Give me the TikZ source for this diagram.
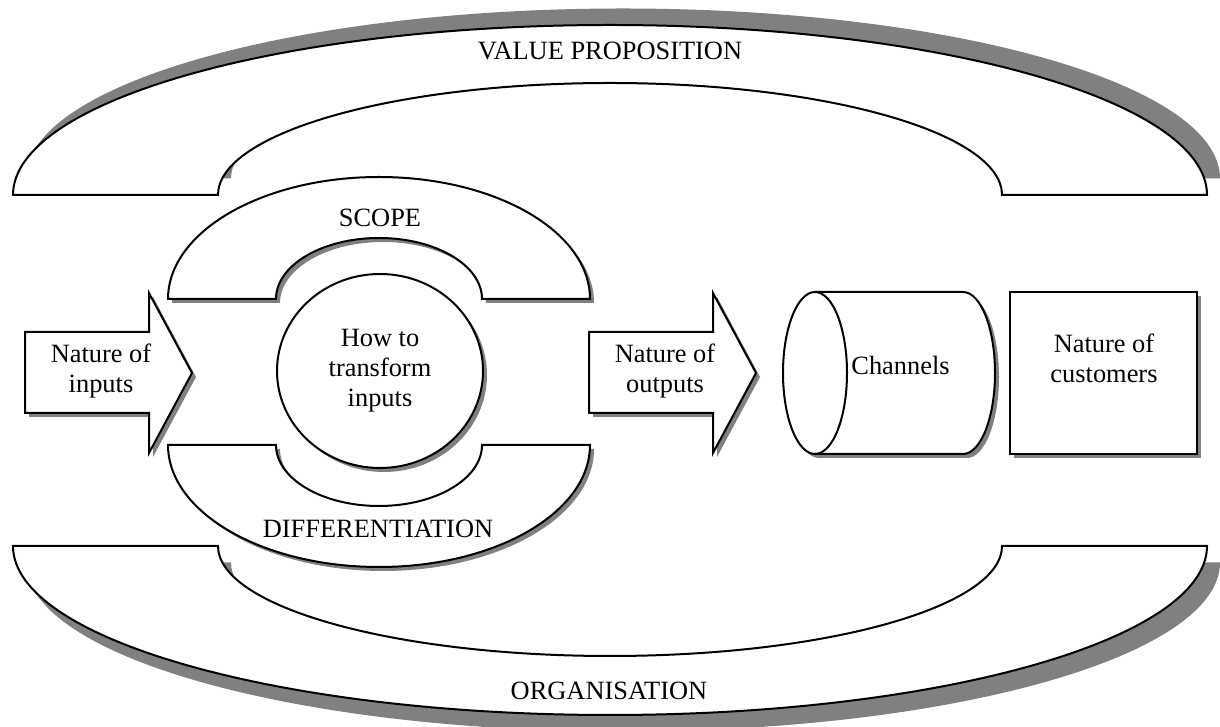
\documentclass[tikz,border=0pt]{standalone}
\usepackage{fontspec}
\setmainfont{Liberation Serif}
\usetikzlibrary{shadows,shapes.geometric}
\definecolor{shadowgrey}{RGB}{128,128,128}
\tikzset{
  outline/.style={draw=black, line width=1pt, fill=white, line join=miter},
  small shadow/.style={drop shadow={shadow xshift=2pt, shadow yshift=-2pt, fill=shadowgrey, opacity=1}},
  shadow up/.style={drop shadow={shadow xshift=6.5pt, shadow yshift=8.25pt, fill=shadowgrey, opacity=1}},
  shadow down/.style={drop shadow={shadow xshift=6.5pt, shadow yshift=-8.25pt, fill=shadowgrey, opacity=1}},
  lbl/.style={font=\fontsize{13.2}{15}\selectfont, inner sep=0pt, align=center},
}
\begin{document}
\begin{tikzpicture}[x=0.5pt, y=0.5pt]
\useasboundingbox (0,0) rectangle (1220,727);

% outer band: value proposition (top) and organisation (bottom)
\path[outline, shadow up] (13,532) arc[start angle=180, end angle=0, x radius=597, y radius=170]
  -- (1002,532) arc[start angle=0, end angle=180, x radius=392, y radius=112] -- cycle;
\path[outline, shadow down] (13,181) arc[start angle=180, end angle=360, x radius=597, y radius=169]
  -- (1002,181) arc[start angle=360, end angle=180, x radius=392, y radius=110] -- cycle;

% inner band: scope (top) and differentiation (bottom)
\path[outline, small shadow] (168,428) arc[start angle=180, end angle=0, x radius=211, y radius=122]
  -- (482,428) arc[start angle=0, end angle=180, x radius=103, y radius=61] -- cycle;
\path[outline, small shadow] (168,282) arc[start angle=180, end angle=360, x radius=211, y radius=122]
  -- (482,282) arc[start angle=360, end angle=180, x radius=103, y radius=61] -- cycle;

% transformation core
\node[ellipse, outline, small shadow, minimum width=103pt, minimum height=97pt, inner sep=0pt,
      lbl] (core) at (380,356) {How to\\transform\\inputs};

% input and output arrows
\path[outline, small shadow] (25,314) -- (25,395) -- (149,395) -- (149,434) -- (192,354)
  -- (149,274) -- (149,314) -- cycle;
\path[outline, small shadow] (589,314) -- (589,395) -- (713,395) -- (713,434) -- (756,354)
  -- (713,274) -- (713,314) -- cycle;

% channels cylinder
\path[outline, small shadow] (815,435) -- (963,435) arc[start angle=90, end angle=-90, x radius=32, y radius=81]
  -- (815,273) arc[start angle=270, end angle=90, x radius=32, y radius=81] -- cycle;
\draw[line width=1pt] (815,273) arc[start angle=-90, end angle=90, x radius=32, y radius=81];

% customers box
\node[rectangle, outline, small shadow, minimum width=93.5pt, minimum height=81pt, inner sep=0pt]
  (custbox) at (1103.5,354) {};

% labels
\node[lbl, anchor=base] (vp) at (610,667) {VALUE PROPOSITION};
\node[lbl, anchor=base] (org) at (609,27) {ORGANISATION};
\node[lbl, anchor=base] (scope) at (380,500) {SCOPE};
\node[lbl, anchor=base] (diff) at (378,189) {DIFFERENTIATION};
\node[lbl] (inputs) at (101,356) {Nature of\\inputs};
\node[lbl] (outputs) at (665,356) {Nature of\\outputs};
\node[lbl, anchor=base west] (chan) at (851,352) {Channels};
\node[lbl] (cust) at (1104,369) {Nature of\\customers};
\end{tikzpicture}
\end{document}
